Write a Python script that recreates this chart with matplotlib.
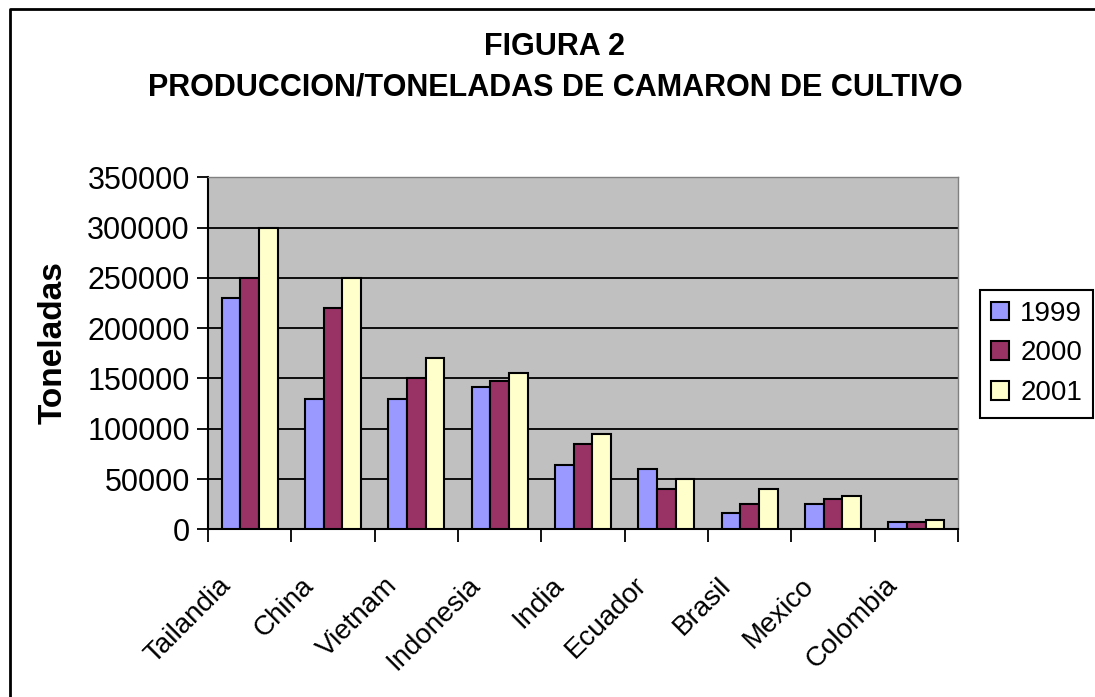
import matplotlib
matplotlib.use("Agg")
import matplotlib.pyplot as plt
from matplotlib.lines import Line2D
from matplotlib.transforms import ScaledTranslation
import numpy as np

plt.rcParams['font.family'] = ['Liberation Sans', 'DejaVu Sans']

countries = ["Tailandia", "China", "Vietnam", "Indonesia", "India",
             "Ecuador", "Brasil", "Mexico", "Colombia"]
years = ["1999", "2000", "2001"]
v1999 = [230000, 130000, 130000, 141000, 64000, 60000, 16000, 25000, 7500]
v2000 = [250000, 220000, 150000, 147000, 85000, 40000, 25000, 30000, 7500]
v2001 = [300000, 250000, 170000, 155000, 95000, 50000, 40000, 33000, 9500]
yticks = [0, 50000, 100000, 150000, 200000, 250000, 300000, 350000]
title1 = "FIGURA 2"
title2 = "PRODUCCION/TONELADAS DE CAMARON DE CULTIVO"
ylabel = "Toneladas"

colors = ["#9999FF", "#993366", "#FFFFCC"]
W, H = 1095, 697
fig = plt.figure(figsize=(W / 100, H / 100), dpi=100)

# outer chart border (only left and top edges visible in the frame)
bx, by = 10 / W, 1 - 9 / H
fig.add_artist(Line2D([bx, bx, 1.0], [0.0, by, by], transform=fig.transFigure,
                      color="black", linewidth=2))

left, right, top, bottom = 208, 958, 177.3, 529.3
ax = fig.add_axes([left / W, 1 - bottom / H, (right - left) / W, (bottom - top) / H])
ax.set_facecolor("#C0C0C0")

x = np.arange(len(countries))
bw = 0.224
for i, (vals, c, lab) in enumerate(zip([v1999, v2000, v2001], colors, years)):
    ax.bar(x + (i - 1) * bw, vals, width=bw, color=c, edgecolor="black",
           linewidth=1.5, label=lab, zorder=3)

ax.set_xlim(-0.5, len(countries) - 0.5)
ax.set_ylim(0, 350000)
ax.set_yticks(yticks)
ax.set_yticklabels([str(v) for v in yticks], fontsize=22)
for v in yticks[1:-1]:
    ax.axhline(v, color="black", linewidth=1.3, zorder=1)

ax.set_xticks(np.arange(-0.5, len(countries)), minor=False)
ax.set_xticklabels([])
ax.set_xticks(x, minor=True)
ax.set_xticklabels(countries, minor=True, rotation=45, ha="right", va="top",
                   fontsize=20)
ax.tick_params(axis="x", which="major", direction="out", length=9, width=1.3)
ax.tick_params(axis="x", which="minor", length=0, pad=31)
ax.tick_params(axis="y", direction="out", length=8, width=1.3, pad=5)
for lbl in ax.get_xticklabels(minor=True):
    lbl.set_transform(lbl.get_transform() + ScaledTranslation(-0.14, 0, fig.dpi_scale_trans))

for s in ["left", "bottom"]:
    ax.spines[s].set_color("black")
    ax.spines[s].set_linewidth(1.5)
for s in ["top", "right"]:
    ax.spines[s].set_color("#808080")
    ax.spines[s].set_linewidth(1)

fig.text(555 / W, 1 - 47 / H, title1, ha="center", va="center",
         fontsize=22, fontweight="bold")
fig.text(555 / W, 1 - 88 / H, title2, ha="center", va="center",
         fontsize=22, fontweight="bold")
fig.text(53 / W, 1 - 343 / H, ylabel, ha="center", va="center", rotation=90,
         fontsize=24, fontweight="bold")

leg = ax.legend(loc="center left", bbox_to_anchor=(980 / W, 1 - 353.5 / H),
                bbox_transform=fig.transFigure, fontsize=20, frameon=True,
                fancybox=False, edgecolor="black", framealpha=1,
                handlelength=0.65, handleheight=0.65, handletextpad=0.4,
                labelspacing=0.5, borderpad=0.4, borderaxespad=0)
leg.get_frame().set_linewidth(1.5)

fig.savefig("out.png", dpi=100)
